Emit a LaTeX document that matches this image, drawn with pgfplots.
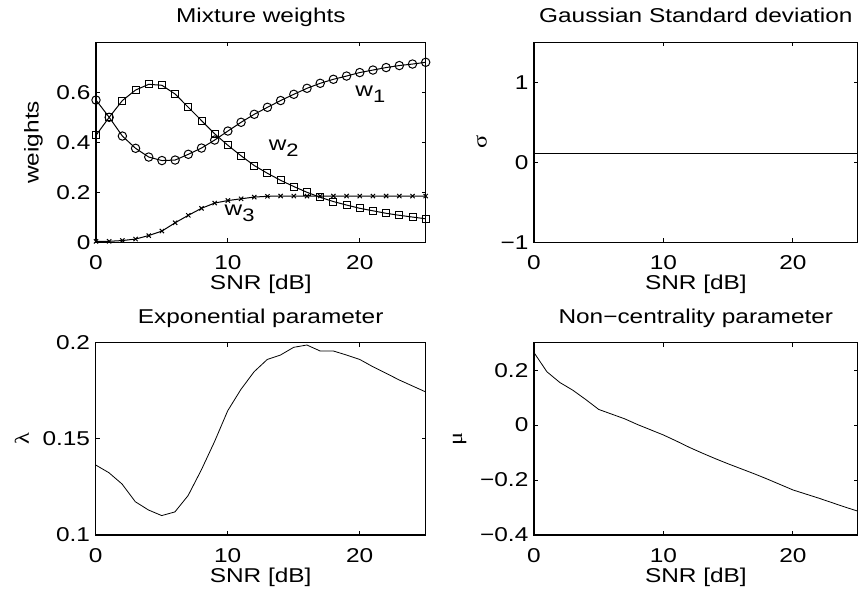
\documentclass[border=0pt]{standalone}
\usepackage{fontspec}
\setmainfont{Liberation Sans}[FakeStretch=1.22]
\newfontfamily\symb{Liberation Serif}[FakeStretch=1.22]
\usepackage{pgfplots}
\pgfplotsset{compat=1.18}

\pgfplotstableread{
x w1 w2 w3
0 0.569 0.428 0.004
1 0.500 0.500 0.004
2 0.425 0.567 0.007
3 0.376 0.609 0.013
4 0.341 0.632 0.027
5 0.327 0.628 0.045
6 0.329 0.593 0.078
7 0.352 0.540 0.108
8 0.377 0.487 0.136
9 0.409 0.434 0.157
10 0.445 0.388 0.167
11 0.480 0.346 0.174
12 0.512 0.307 0.181
13 0.540 0.276 0.184
14 0.567 0.248 0.185
15 0.592 0.223 0.185
16 0.616 0.200 0.185
17 0.636 0.180 0.185
18 0.652 0.163 0.185
19 0.665 0.149 0.185
20 0.679 0.136 0.185
21 0.689 0.126 0.185
22 0.699 0.116 0.185
23 0.707 0.108 0.185
24 0.713 0.101 0.185
25 0.720 0.094 0.185
}\weights

\pgfplotstableread{
x lam mu
0 0.1364 0.264
1 0.1324 0.194
2 0.1265 0.155
3 0.1173 0.127
4 0.1130 0.093
5 0.1101 0.057
6 0.1120 0.040
7 0.1205 0.023
8 0.1338 0.002
9 0.1485 -0.017
10 0.1646 -0.036
11 0.1757 -0.058
12 0.1849 -0.081
13 0.1913 -0.102
14 0.1936 -0.122
15 0.1976 -0.141
16 0.1988 -0.159
17 0.1957 -0.177
18 0.1957 -0.196
19 0.1936 -0.216
20 0.1913 -0.236
21 0.1875 -0.251
22 0.1841 -0.266
23 0.1806 -0.282
24 0.1775 -0.298
25 0.1744 -0.313
}\params

\pgfplotstableread{
x s
0 0.11
25 0.11
}\sigmatab

\pgfplotsset{
  mat/.style={
    scale only axis,
    xmin=0, xmax=25,
    xtick={0,10,20}, xticklabels={0,10,20},
    tick align=inside,
    major tick length=2pt,
    axis line style={line width=0.6pt},
    every tick/.style={black, line width=0.5pt},
    xlabel={SNR [dB]},
    xlabel style={at={(axis description cs:0.5,0)}, anchor=north, inner sep=0pt, yshift=-16.2pt},
    title style={at={(axis description cs:0.5,1)}, anchor=base, inner sep=0pt, yshift=3.8pt},
    xticklabel style={yshift=-3pt},
    yticklabel style={xshift=0.7pt},
    cycle list={{black,no marks,line width=0.5pt}},
    clip=false,
  }
}

\begin{document}
\begin{tikzpicture}
\path[use as bounding box] (0,0) rectangle (429pt,298pt);

% top left
\begin{axis}[mat,
  at={(48pt,176.85pt)}, anchor=south west,
  width=164.85pt, height=100pt,
  ymin=0, ymax=0.8,
  ytick={0,0.2,0.4,0.6}, yticklabels={0,0.2,0.4,0.6},
  ylabel={weights},
  title={Mixture weights},
]
\addplot[black, line width=0.5pt, mark=o, mark size=2.1pt] table[x=x,y=w1] {\weights};
\addplot[black, line width=0.5pt, mark=square, mark size=1.75pt] table[x=x,y=w2] {\weights};
\addplot[black, line width=0.5pt, mark=x, mark size=1.5pt] table[x=x,y=w3] {\weights};
\node[anchor=base west, inner sep=0pt] at (axis cs:19.64,0.583) {w\raisebox{-0.6ex}{\fontsize{9}{10}\selectfont 1}};
\node[anchor=base west, inner sep=0pt] at (axis cs:13.07,0.369) {w\raisebox{-0.6ex}{\fontsize{9}{10}\selectfont 2}};
\node[anchor=base west, inner sep=0pt] at (axis cs:9.73,0.109) {w\raisebox{-0.6ex}{\fontsize{9}{10}\selectfont 3}};
\end{axis}

% top right
\begin{axis}[mat,
  at={(267pt,176.85pt)}, anchor=south west,
  width=161.85pt, height=100pt,
  ymin=-1, ymax=1.5,
  ytick={-1,0,1}, yticklabels={−1,0,1},
  ylabel={\symb σ},
  title={Gaussian Standard deviation},
]
\addplot table[x=x,y=s] {\sigmatab};
\end{axis}

% bottom left
\begin{axis}[mat,
  at={(47.85pt,30.5pt)}, anchor=south west,
  width=165pt, height=96.15pt,
  ymin=0.1, ymax=0.2,
  ytick={0.1,0.15,0.2}, yticklabels={0.1,0.15,0.2},
  ylabel={\symb λ},
  title={Exponential parameter},
]
\addplot table[x=x,y=lam] {\params};
\end{axis}

% bottom right
\begin{axis}[mat,
  at={(267pt,30.5pt)}, anchor=south west,
  width=161.85pt, height=96.15pt,
  ymin=-0.4, ymax=0.3,
  ytick={-0.4,-0.2,0,0.2}, yticklabels={−0.4,−0.2,0,0.2},
  ylabel={\symb μ},
  title={Non−centrality parameter},
]
\addplot table[x=x,y=mu] {\params};
\end{axis}
\end{tikzpicture}
\end{document}
